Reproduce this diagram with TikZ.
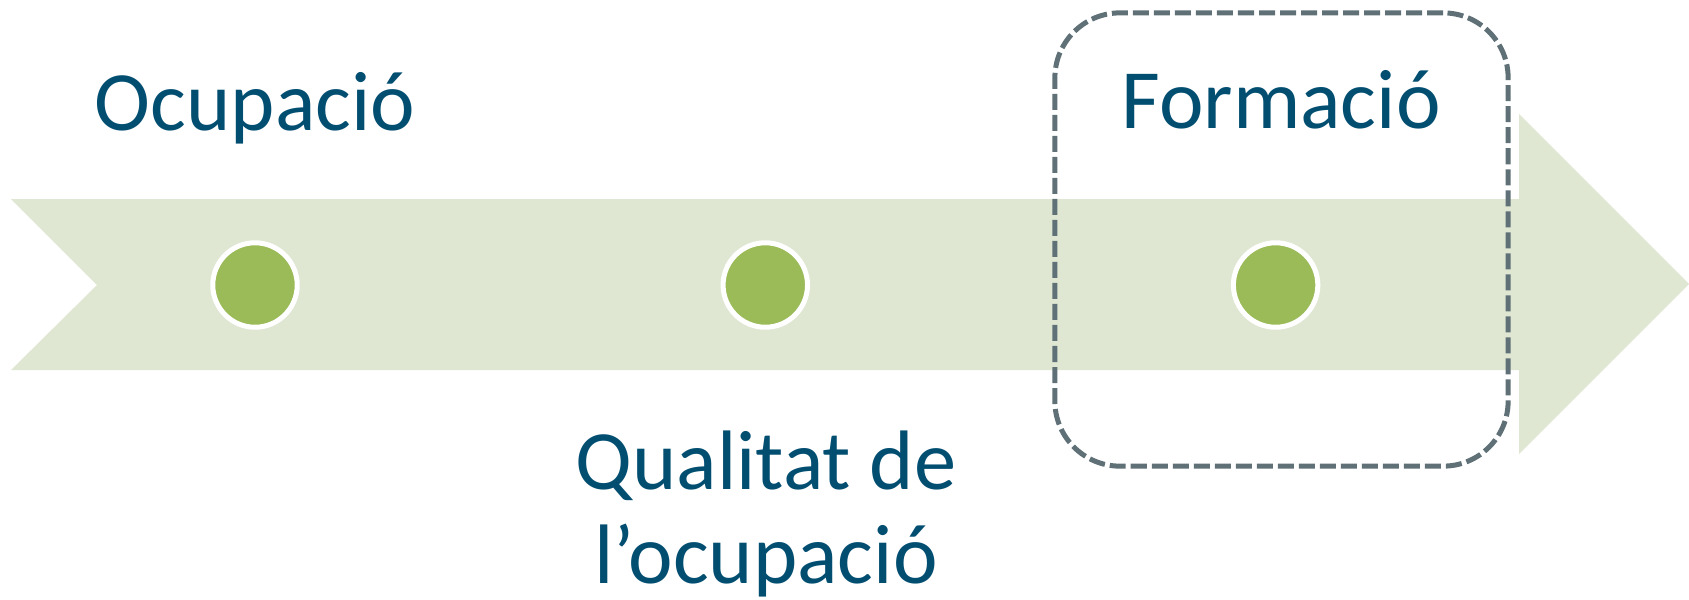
\documentclass[tikz,border=0pt]{standalone}
\usepackage{fontspec}
\setmainfont{Carlito}
\definecolor{arrowgreen}{RGB}{223,231,211}
\definecolor{dotgreen}{RGB}{155,187,89}
\definecolor{textblue}{RGB}{2,78,113}
\definecolor{framegrey}{RGB}{95,112,119}
\begin{document}
\begin{tikzpicture}[x=0.01cm,y=-0.01cm,node distance=5.1cm,
                dot/.style = {circle, fill=dotgreen, draw=white, line width=0.05cm, minimum size=0.844cm, inner sep=0pt},
                tlabel/.style = {color=textblue, font=\fontsize{24}{26.5}\selectfont, inner sep=0pt, anchor=base},
                dashframe/.style = {draw=framegrey, line width=0.05cm, dash pattern=on 0.16cm off 0.05cm, rounded corners=0.65cm, minimum size=4.53cm}]
                \useasboundingbox (0,0) rectangle (1689,599);
                \fill[arrowgreen] (11,199) -- (1519,199) -- (1519,114) -- (1689,284) -- (1519,454) -- (1519,370) -- (11,370) -- (97,285) -- cycle;
                \node[dot] (1) at (255,285) {};
                \node[dot] (2) [right of=1] {};
                \node[dot] (3) [right of=2] {};
                \node[dashframe] (4) at (1281.5,239.5) {};
                \node[tlabel] (5) at (255,130) {Ocupació};
                \node[tlabel] (6) at (1281,128) {Formació};
                \node[tlabel, align=center] (7) at (766,583) {Qualitat de\\l’ocupació};
            \end{tikzpicture}
\end{document}
